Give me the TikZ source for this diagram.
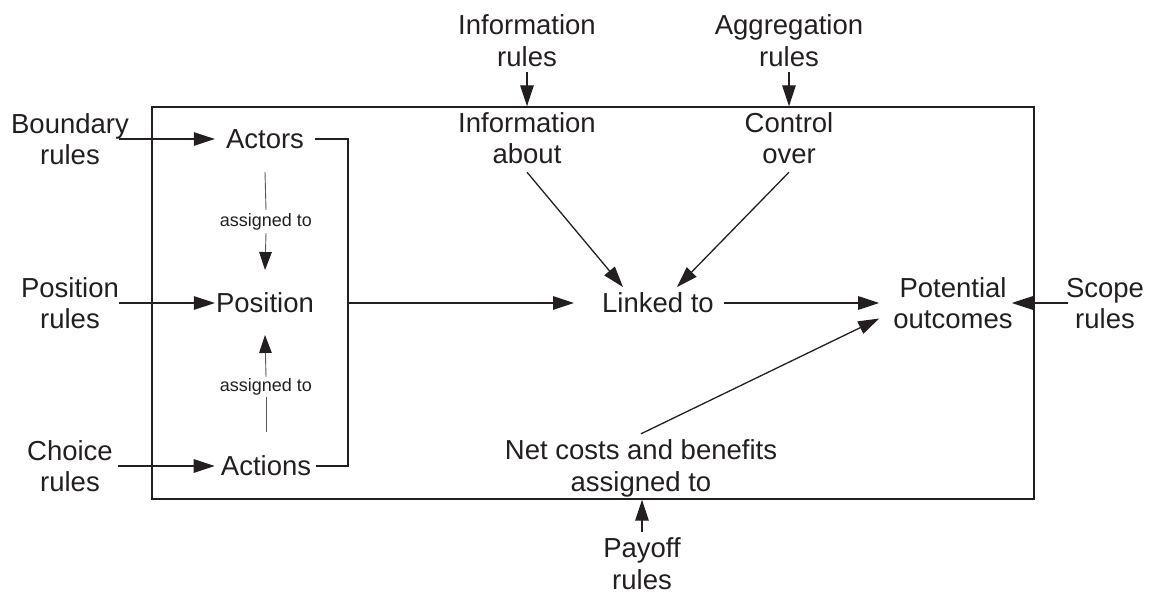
\documentclass[tikz,border=0pt]{standalone}
\usepackage{fontspec}
\setmainfont{Liberation Sans}
\usetikzlibrary{arrows.meta,calc}
\definecolor{ink}{HTML}{231F20}
\newcommand\mystrut{\rule[-5.9pt]{0pt}{31.5pt}}
\newcommand\mystrutnd{\rule{0pt}{25.6pt}}
\begin{document}
\begin{tikzpicture}[x=1pt,y=-1pt,
  lbl/.style={inner sep=0pt,align=center,text=ink,font=\fontsize{27.5}{31.5}\selectfont},
  small/.style={inner sep=0pt,align=center,text=ink,minimum height=23pt,font=\fontsize{18}{21}\selectfont},
  arr/.style={draw=ink,line width=1.3pt,-{Triangle[length=21pt,width=13.5pt]}},
  plain/.style={draw=ink,line width=1.3pt},
  thinl/.style={draw=ink!75,line width=0.9pt},
  thinarr/.style={draw=ink!75,line width=0.9pt,-{Triangle[length=18pt,width=12.5pt,color=ink]}},
  frame/.style={draw=ink,line width=1.4pt,inner sep=0pt,minimum width=882pt,minimum height=392pt}]
\useasboundingbox (0,0) rectangle (1150,593);
\node[frame] (box) at (593,303) {};
% left side
\node[lbl] (brules) at (70,139) {\mystrut Boundary\\\mystrut rules};
\node[lbl] (prules) at (70,303) {\mystrut Position\\\mystrut rules};
\node[lbl] (crules) at (70,466) {\mystrut Choice\\\mystrut rules};
\node[lbl] (actors) at (265,139) {\mystrut Actors};
\node[lbl] (position) at (265,303) {\mystrut Position};
\node[lbl] (actions) at (266,466) {\mystrut Actions};
\node[small] (as1) at (266,221.5) {assigned to};
\node[small,minimum height=20pt] (as2) at (266,387) {assigned to};
% top
\node[lbl] (irules) at (527,40.5) {\mystrut Information\\\mystrut rules};
\node[lbl] (arules) at (789,40.5) {\mystrut Aggregation\\\mystrut rules};
\node[lbl] (info) at (527,138) {\mystrut Information\\\mystrut about};
\node[lbl] (control) at (789,138) {\mystrut Control\\\mystrut over};
% middle/right
\node[lbl] (linked) at (658,303) {\mystrut Linked to};
\node[lbl] (potential) at (953,303) {\mystrut Potential\\\mystrut outcomes};
\node[lbl] (srules) at (1105,303) {\mystrut Scope\\\mystrut rules};
% bottom
\node[lbl] (netcost) at (641,465.5) {\mystrut Net costs and benefits\\\mystrut assigned to};
\node[lbl] (payoff) at (642,561) {\mystrut Payoff\\\mystrutnd rules};
\coordinate (br) at (348,303);
% connectors
\draw[arr] ([xshift=-10pt]brules.east) -- ([xshift=-11pt]actors.west);
\draw[arr] (prules.east) -- ([xshift=-1pt]position.west);
\draw[arr] ([xshift=5pt]crules.east) -- ([xshift=-6pt]actions.west);
\draw[plain] ([xshift=11pt]actors.east) -| (br) |- ([xshift=5pt]actions.east);
\draw[arr] (br) -- ([xshift=-28pt]linked.west);
\draw[thinl] ([yshift=-17pt]actors.south) -- (as1.north);
\draw[thinarr] (as1.south) -- ([yshift=17pt]position.north);
\draw[thinl] ([yshift=18pt]actions.north) -- (as2.south);
\draw[thinarr] (as2.north) -- ([yshift=-16pt]position.south);
\draw[arr] (irules.south) -- (irules.south |- box.north);
\draw[arr] (arules.south) -- (arules.south |- box.north);
\draw[arr] ([yshift=-2.5pt]info.south) -- ([xshift=-35pt]linked.north);
\draw[arr] ([yshift=-2.5pt]control.south) -- ([xshift=19pt]linked.north);
\draw[arr] ([xshift=10pt]linked.east) -- ([xshift=-14pt]potential.west);
\draw[arr] ([xshift=2pt]srules.west) -- ([xshift=-1pt]potential.east);
\draw[arr] (netcost.north) -- ([xshift=-14pt,yshift=-15.5pt]potential.west);
\draw[arr] (payoff.north) -- (payoff.north |- box.south);
\end{tikzpicture}
\end{document}
